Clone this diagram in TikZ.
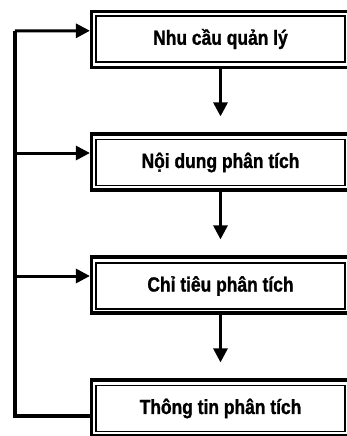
\documentclass[tikz,border=0pt]{standalone}
\usepackage{fontspec}
\newfontfamily\narrowfont{Liberation Sans Bold}[FakeStretch=0.85, FakeBold=1.2]
\usetikzlibrary{arrows.meta}

\begin{document}
\begin{tikzpicture}[x=1pt,y=-1pt]
	% Define styles for the boxes and the arrows
	\tikzstyle{frame} = [rectangle, draw, line width=3.2pt, minimum width=258pt, minimum height=56pt, inner sep=0pt]
	\tikzstyle{stage} = [rectangle, draw, line width=1.6pt, minimum width=249pt, minimum height=46pt, inner sep=0pt, font=\narrowfont\fontsize{20.5}{24}\selectfont]
	\tikzstyle{flow} = [line width=3pt, -{Triangle[width=14pt,length=14pt]}]
	\tikzstyle{feedback} = [line width=3.6pt]

	\useasboundingbox (0,0) rectangle (347,436);
	\clip (0,0) rectangle (347,436);

	% Define the boxes with positions
	\node[frame] (f1) at (220.5, 39.75) {};
	\node[stage] (n1) at (220.5, 39) {Nhu cầu quản lý};

	\node[frame] (f2) at (220.5, 162) {};
	\node[stage] (n2) at (220.5, 162.5) {Nội dung phân tích};

	\node[frame] (f3) at (220.5, 285) {};
	\node[stage] (n3) at (220.5, 286) {Chỉ tiêu phân tích};

	\node[frame] (f4) at (220.5, 408) {};
	\node[stage] (n4) at (220.5, 408.5) {Thông tin phân tích};

	% Draw the arrows between the boxes
	\draw[flow, shorten >=16pt] (f1.south) -- (f2.north);
	\draw[flow, shorten >=16pt] (f2.south) -- (f3.north);
	\draw[flow, shorten >=16pt] (f3.south) -- (f4.north);

	% Draw the feedback line on the left
	\coordinate (top) at (15, 31);
	\coordinate (b1) at ([yshift=9pt]f1.west);
	\coordinate (b2) at ([yshift=9pt]f2.west);
	\coordinate (b3) at ([yshift=9pt]f3.west);
	\coordinate (b4) at ([yshift=-8pt]f4.west);

	\draw[feedback] (b4) -| (top);
	\draw[flow] (top) -- (b1);
	\draw[flow] (top |- b2) -- (b2);
	\draw[flow] (top |- b3) -- (b3);

\end{tikzpicture}
\end{document}
